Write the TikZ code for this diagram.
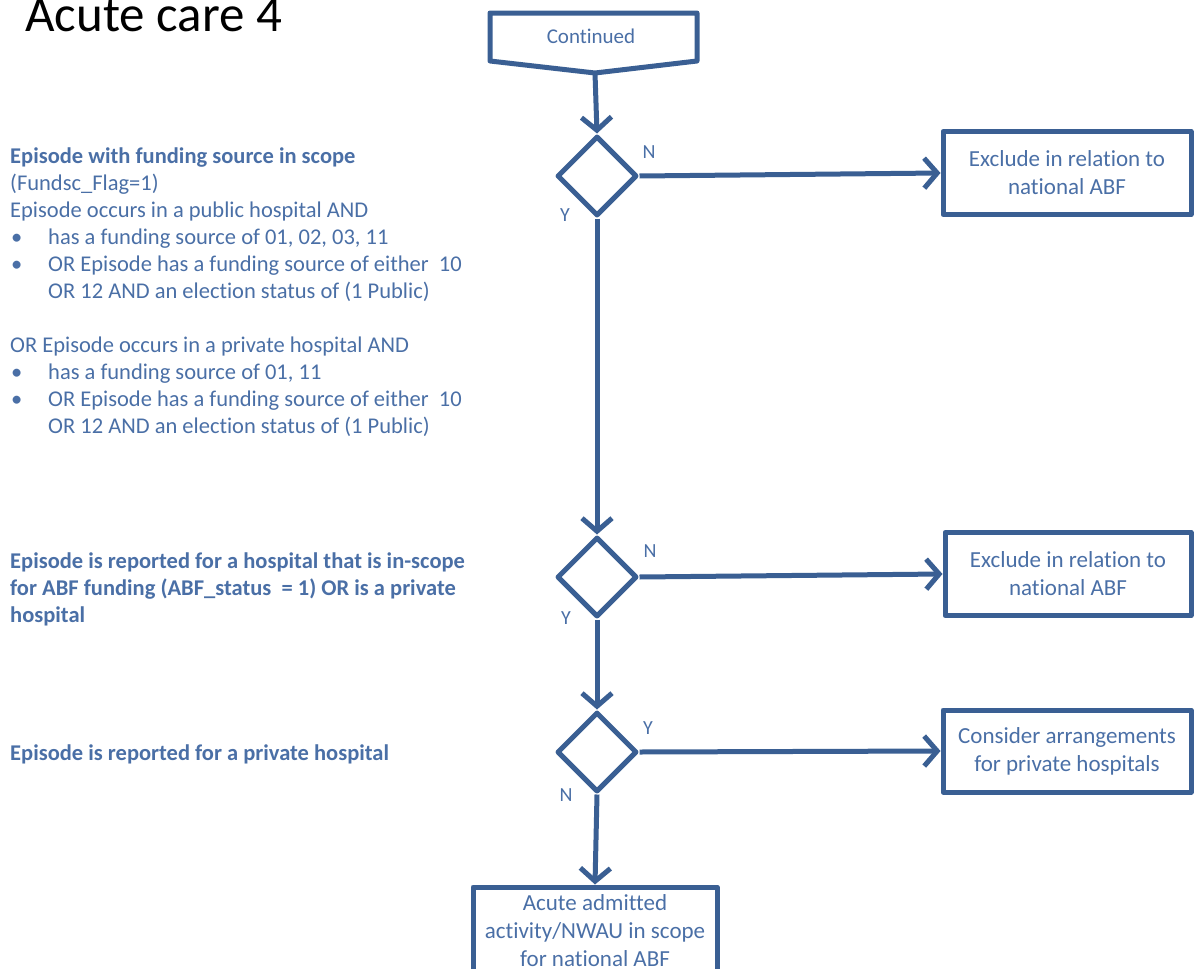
\documentclass[tikz,border=0pt]{standalone}
\usepackage{fontspec}
\setmainfont{Carlito}[Ligatures=NoCommon]
\usetikzlibrary{arrows.meta,shapes.geometric}
\definecolor{lineblue}{HTML}{3A5F93}
\definecolor{textblue}{HTML}{4A6FA6}
\begin{document}
\begin{tikzpicture}[x=1pt,y=-1pt,
  every node/.style={font=\fontsize{22.5}{27}\selectfont, text=textblue},
  flow/.style={draw=lineblue, line width=5pt, line join=round},
  decision/.style={flow, diamond, minimum width=80pt, minimum height=80pt, inner sep=0pt},
  outcome/.style={flow, rectangle, align=center, inner sep=0pt, font=\fontsize{23}{28}\selectfont},
  link/.style={draw=lineblue, line width=5pt, -{Straight Barb[length=13pt,width=30pt,line width=5pt]}},
  yn/.style={font=\fontsize{20}{22}\selectfont},
  note/.style={anchor=base west, align=left, inner sep=0pt}]
\clip (0,0) rectangle (1194,969);

% title
\node[anchor=base west, font=\fontsize{51}{56}\selectfont, text=black, inner sep=0pt] (title) at (25,31) {Acute care 4};

% off-page connector at the top
\draw[flow] (490,13) -- (697,13) -- (697,61) -- (595,73) -- (490,61) -- cycle;
\coordinate (cont) at (595,73);
\node[font=\fontsize{21}{24}\selectfont] (contlabel) at (591,36) {Continued};

% decisions
\node[decision] (d1) at (597,176) {};
\node[decision] (d2) at (597,577) {};
\node[decision] (d3) at (597,752) {};

% outcomes
\node[outcome, minimum width=248pt, minimum height=83pt] (x1) at (1067,173) {Exclude in relation to\\national ABF};
\node[outcome, minimum width=246pt, minimum height=83pt] (x2) at (1068,574) {Exclude in relation to\\national ABF};
\node[outcome, minimum width=248pt, minimum height=82pt] (p3) at (1067,751) {Consider arrangements\\for private hospitals};
\node[outcome, minimum width=244pt, minimum height=88pt] (fin) at (595,931) {Acute admitted\\activity/NWAU in scope\\for national ABF};

% connectors
\draw[link] (cont) -- (d1.north);
\draw[link] (d1.east) -- (x1.west);
\draw[link] (d1.south) -- (d2.north);
\draw[link] (d2.east) -- (x2.west);
\draw[link] (d2.south) -- (d3.north);
\draw[link] (d3.east) -- (p3.west);
\draw[link] (d3.south) -- (fin.north);

% branch labels
\node[yn] (n1) at (649,152) {N};
\node[yn] (y1) at (565,215) {Y};
\node[yn] (n2) at (650,551) {N};
\node[yn] (y2) at (566,618) {Y};
\node[yn] (y3) at (648,728) {Y};
\node[yn] (n3) at (566,795) {N};

% conditions (anchored at the baseline of their last line)
\newcommand{\bul}{\makebox[38pt][l]{\hspace{1pt}\textbullet}}
\newcommand{\ind}{\hspace*{38pt}}
\node[note] (c1) at (10,433) {\textbf{Episode with funding source in scope}\\
(Fundsc\_Flag=1)\\
Episode occurs in a public hospital AND\\
\bul has a funding source of 01, 02, 03, 11\\
\bul OR Episode has a funding source of either\ \ 10\\
\ind OR 12 AND an election status of (1 Public)\\[27pt]
OR Episode occurs in a private hospital AND\\
\bul has a funding source of 01, 11\\
\bul OR Episode has a funding source of either\ \ 10\\
\ind OR 12 AND an election status of (1 Public)};

\node[note, font=\bfseries\fontsize{22.5}{27}\selectfont] (c2) at (10,622) {Episode is reported for a hospital that is in-scope\\
for ABF funding (ABF\_status\ \ = 1) OR\ is a private\\
hospital};

\node[note, font=\bfseries\fontsize{22.5}{27}\selectfont] (c3) at (10,760) {Episode is reported for a private hospital};
\end{tikzpicture}
\end{document}
